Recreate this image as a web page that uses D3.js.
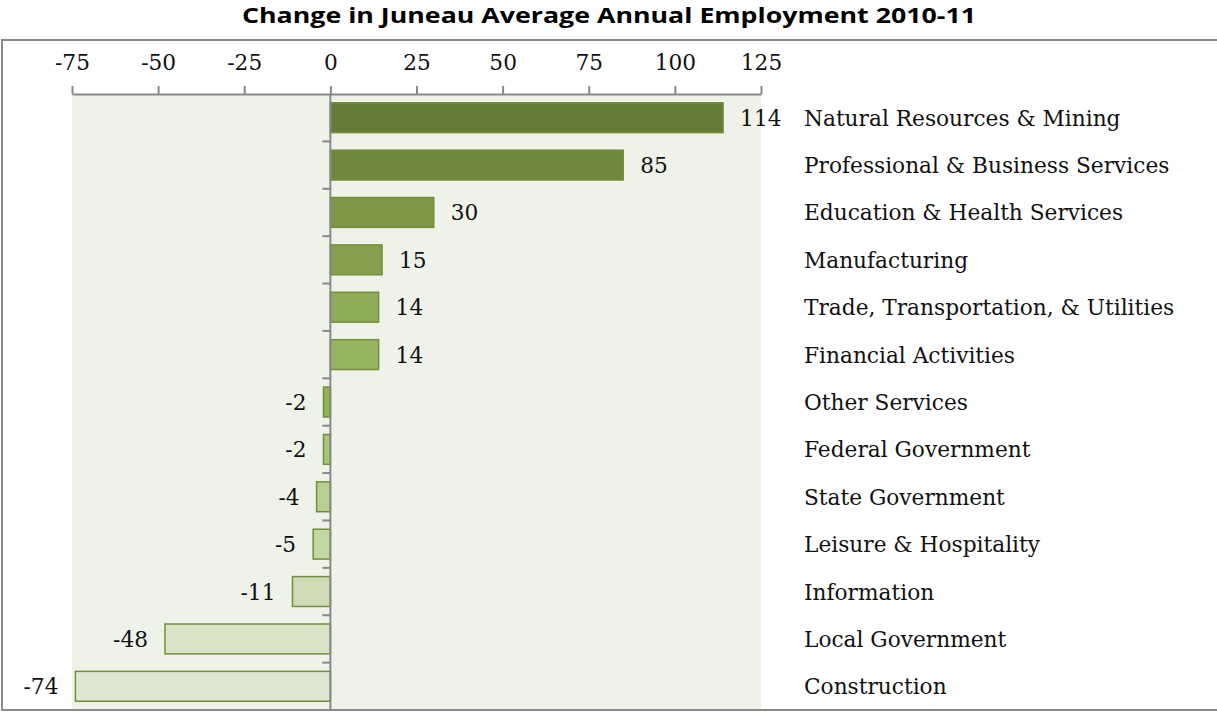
<html>
<head>
    <meta charset="utf-8">
    <title>Juneau Employment Change</title>
    <style>
        body { margin: 0; background: white; }
    </style>
</head>
<body>
<svg id="container" width="1217" height="712"></svg>
<script src="https://d3js.org/d3.v7.min.js"></script>
<script>
    // data
    let industries = ["Natural Resources & Mining", "Professional & Business Services",
        "Education & Health Services", "Manufacturing", "Trade, Transportation, & Utilities",
        "Financial Activities", "Other Services", "Federal Government", "State Government",
        "Leisure & Hospitality", "Information", "Local Government", "Construction"]
    let change = [114, 85, 30, 15, 14, 14, -2, -2, -4, -5, -11, -48, -74]
    let xTicks = [-75, -50, -25, 0, 25, 50, 75, 100, 125]

    // bar fills, dark at top fading to pale at the bottom
    let fills = ["#647a37", "#6f883d", "#7c9646", "#84a04c", "#8eac55", "#97b45e", "#93b356",
        "#aac47c", "#b8ce92", "#c3d6a3", "#cedbb6", "#d8e3c7", "#dfe7d3"]

    let svg = d3.select("#container")
    let serif = "'DejaVu Serif', serif"
    let labelSize = "21.7px"

    let plotLeft = 72, plotRight = 761, plotTop = 94, plotBottom = 710

    let x = d3.scaleLinear().domain([-75, 125]).range([plotLeft, plotRight])
    let y = d3.scaleBand().domain(industries).range([plotTop, plotBottom]).paddingInner(0.37).paddingOuter(0.185)
    let yBand = d3.scaleBand().domain(industries).range([plotTop, plotBottom])

    // title
    svg.append("text")
        .attr("x", 609).attr("y", 23)
        .attr("text-anchor", "middle")
        .attr("textLength", 734)
        .attr("lengthAdjust", "spacingAndGlyphs")
        .style("font-family", "'Open Sans', sans-serif")
        .style("font-weight", "bold")
        .style("font-size", "21px")
        .text("Change in Juneau Average Annual Employment 2010-11")

    // plot background
    svg.append("rect")
        .attr("x", plotLeft).attr("y", plotTop)
        .attr("width", plotRight - plotLeft).attr("height", plotBottom - plotTop)
        .style("fill", "#eff2e9")

    // bars
    svg.selectAll("rect.bar")
        .data(change)
        .join("rect")
        .attr("class", "bar")
        .attr("x", d => x(Math.min(0, d)))
        .attr("width", d => Math.abs(x(d) - x(0)))
        .attr("y", (d, i) => y(industries[i]))
        .attr("height", y.bandwidth())
        .style("fill", (d, i) => fills[i])
        .style("stroke", "#71903a")
        .style("stroke-width", 1.5)

    // value labels
    svg.selectAll("text.val")
        .data(change)
        .join("text")
        .attr("class", "val")
        .attr("x", d => d >= 0 ? x(d) + 17 : x(d) - 17)
        .attr("y", (d, i) => yBand(industries[i]) + yBand.bandwidth() / 2 + 8)
        .attr("text-anchor", d => d >= 0 ? "start" : "end")
        .style("font-family", serif)
        .style("font-size", labelSize)
        .style("fill", "#111")
        .text(d => d)

    // category labels
    svg.selectAll("text.cat")
        .data(industries)
        .join("text")
        .attr("class", "cat")
        .attr("x", 804)
        .attr("y", d => yBand(d) + yBand.bandwidth() / 2 + 8)
        .style("font-family", serif)
        .style("font-size", labelSize)
        .style("fill", "#111")
        .text(d => d)

    // zero line with category ticks
    let zeroG = svg.append("g").attr("transform", `translate(${x(0)},0)`)
    zeroG.append("line")
        .attr("y1", plotTop).attr("y2", plotBottom)
        .style("stroke", "#888").style("stroke-width", 2)
    zeroG.selectAll("line.ctick")
        .data(industries.slice(1))
        .join("line")
        .attr("class", "ctick")
        .attr("x1", -8).attr("x2", 0)
        .attr("y1", d => yBand(d)).attr("y2", d => yBand(d))
        .style("stroke", "#888").style("stroke-width", 2)

    // top axis
    let xAxis = d3.axisTop(x).tickValues(xTicks).tickSize(8).tickSizeOuter(0).tickPadding(16)
        .tickFormat(d => String(d))
    let axG = svg.append("g").attr("transform", `translate(0,${plotTop})`).call(xAxis)
    axG.select(".domain").style("stroke", "#888").style("stroke-width", 2)
    axG.selectAll(".tick line").style("stroke", "#888").style("stroke-width", 2)
    axG.selectAll(".tick text")
        .style("font-family", serif)
        .style("font-size", labelSize)
        .style("fill", "#111")

    // outer frame
    svg.append("rect")
        .attr("x", 2).attr("y", 40)
        .attr("width", 1216).attr("height", 670)
        .style("fill", "none")
        .style("stroke", "#8a8a8a")
        .style("stroke-width", 2)
</script>
</body>
</html>
